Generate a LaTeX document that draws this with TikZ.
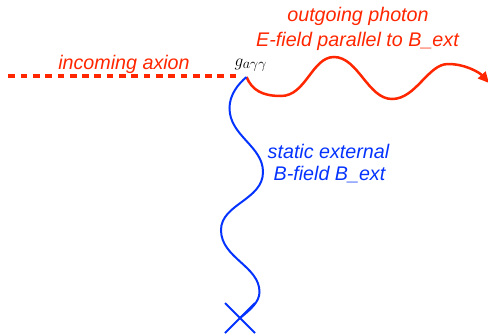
\documentclass[tikz,border=0pt]{standalone}
\usepackage{fontspec}
\setmainfont{Liberation Sans}
\usetikzlibrary{arrows.meta,calc}
\definecolor{kred}{HTML}{FF2600}
\definecolor{kblue}{HTML}{0433FF}
\begin{document}
\begin{tikzpicture}[x=1pt,y=-1pt,
  lbl/.style={font=\fontsize{19.7}{23.5}\selectfont\itshape, inner sep=0pt, anchor=base},
  redlbl/.style={lbl, text=kred},
  bluelbl/.style={lbl, text=kblue},
  axionline/.style={draw=kred, line width=3.1pt, dash pattern=on 6.7pt off 5.6pt},
  photonline/.style={draw=kred, line width=2.5pt, -{Triangle[length=11pt,width=10pt]}},
  fieldline/.style={draw=kblue, line width=2pt},
  crossline/.style={draw=kblue, line width=2pt}]
\useasboundingbox (0,0) rectangle (488,333);
\coordinate (axstart) at (8.3,76);
\coordinate (axend) at (237,76);
\coordinate (vertex) at (246.5,77);
\coordinate (photonend) at (489,83);
\coordinate (xc) at (240,318);
% incoming axion
\draw[axionline] (axstart) -- (axend);
% outgoing photon
\draw[photonline] (vertex) .. controls (252,90) and (262,96) .. (281,96)
  .. controls (306,96) and (312,57) .. (334,57)
  .. controls (358,57) and (368,99) .. (392,99)
  .. controls (416,99) and (428,64) .. (448,64)
  .. controls (466,64) and (480,73) .. (photonend);
% static field
\draw[fieldline] (vertex) .. controls (238,84) and (229.5,95) .. (229.5,108)
  .. controls (229.5,136) and (263,146) .. (263,172)
  .. controls (263,200) and (221,204) .. (221,230)
  .. controls (221,258) and (259.5,266) .. (259.5,292)
  .. controls (259.5,302) and (250,310) .. (xc);
% cross
\draw[crossline] ($(xc)+(-15,-15)$) -- ($(xc)+(15,15)$);
\draw[crossline] ($(xc)+(-15,15)$) -- ($(xc)+(15,-15)$);
% labels
\node[redlbl] (lax) at (124,69) {incoming axion};
\node[redlbl] (lph1) at (358,21.5) {outgoing photon};
\node[redlbl] (lph2) at (357.5,46) {E-field parallel to B\_ext};
\node[bluelbl] (lb1) at (328.5,158) {static external};
\node[bluelbl] (lb2) at (329.5,180.5) {B-field B\_ext};
\node[inner sep=0pt, anchor=base west, font=\fontsize{19}{22}\selectfont] (coup) at (234.5,66) {$g_{a\gamma\gamma}$};
\end{tikzpicture}
\end{document}
